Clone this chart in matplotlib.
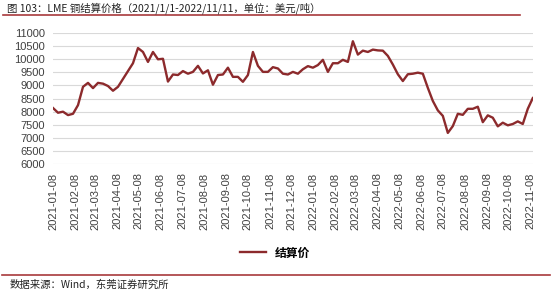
import matplotlib
matplotlib.use("Agg")
import matplotlib.pyplot as plt
import matplotlib.dates as mdates
from matplotlib.lines import Line2D
import pandas as pd

plt.rcParams['font.family'] = ['Noto Sans CJK SC', 'DejaVu Sans']

# weekly LME copper settlement price, USD/t
dates = pd.date_range('2021-01-08', periods=97, freq='7D')
price = [8140, 7960, 8000, 7870, 7920, 8250, 8950, 9100, 8900, 9100,
         9070, 8980, 8800, 8950, 9250, 9550, 9850, 10430, 10280, 9900,
         10280, 10000, 10020, 9150, 9420, 9400, 9550, 9450, 9520, 9750,
         9460, 9580, 9030, 9400, 9420, 9680, 9330, 9330, 9140, 9400,
         10280, 9750, 9520, 9520, 9700, 9650, 9450, 9420, 9520, 9450,
         9620, 9740, 9680, 9780, 9980, 9520, 9850, 9850, 9980, 9900,
         10690, 10180, 10330, 10280, 10370, 10340, 10330, 10130, 9800, 9430,
         9170, 9430, 9450, 9490, 9450, 8910, 8410, 8050, 7840, 7190,
         7450, 7920, 7880, 8110, 8110, 8190, 7600, 7860, 7770, 7440,
         7580, 7480, 7530, 7630, 7530, 8110, 8520]
tick_dates = pd.date_range('2021-01-01', '2022-11-01', freq='MS') + pd.Timedelta(days=7)
yticks = list(range(6000, 11001, 500))

red = '#8c2a2c'
line_red = '#a8393c'

fig = plt.figure(figsize=(5.54, 2.93), dpi=100)
ax = fig.add_axes([0.0957, 0.440, 0.866, 0.447])

ax.plot(dates, price, color=red, lw=1.7, label='结算价')
ax.set_xlim(dates[0], dates[-1])
ax.set_ylim(6000, 11000)
ax.set_yticks(yticks)
ax.set_xticks(tick_dates)
ax.xaxis.set_major_formatter(mdates.DateFormatter('%Y-%m-%d'))
for lab in ax.get_xticklabels():
    lab.set_rotation(90)
    lab.set_fontfamily('Liberation Sans')
for lab in ax.get_yticklabels():
    lab.set_fontfamily('Liberation Sans')
ax.tick_params(axis='both', length=0, labelsize=8, colors='#404040')
ax.tick_params(axis='x', pad=6)
ax.tick_params(axis='y', pad=6)
ax.grid(axis='y', color='#d9d9d9', lw=0.8)
ax.set_axisbelow(True)
for s in ax.spines.values():
    s.set_visible(False)

leg = ax.legend(loc='center', bbox_to_anchor=(275 / 554, 1 - 253 / 293),
                bbox_transform=fig.transFigure, frameon=False,
                handlelength=2.2, prop={'weight': 'bold', 'size': 8.5})

fig.text(0.012, 1 - 8 / 293, '图 103：LME 铜结算价格（2021/1/1-2022/11/11，单位：美元/吨）',
         fontsize=7.5, va='center', ha='left', color='#222222')
fig.add_artist(Line2D([3 / 554, 520 / 554], [1 - 15 / 293, 1 - 15 / 293],
                      color=line_red, lw=1.2))
fig.add_artist(Line2D([2 / 554, 550 / 554], [1 - 275 / 293, 1 - 275 / 293],
                      color=line_red, lw=1.2))
fig.text(0.018, 1 - 285 / 293, '数据来源：Wind，东莞证券研究所',
         fontsize=7.5, va='center', ha='left', color='#222222')

fig.savefig('out.png', dpi=100)
